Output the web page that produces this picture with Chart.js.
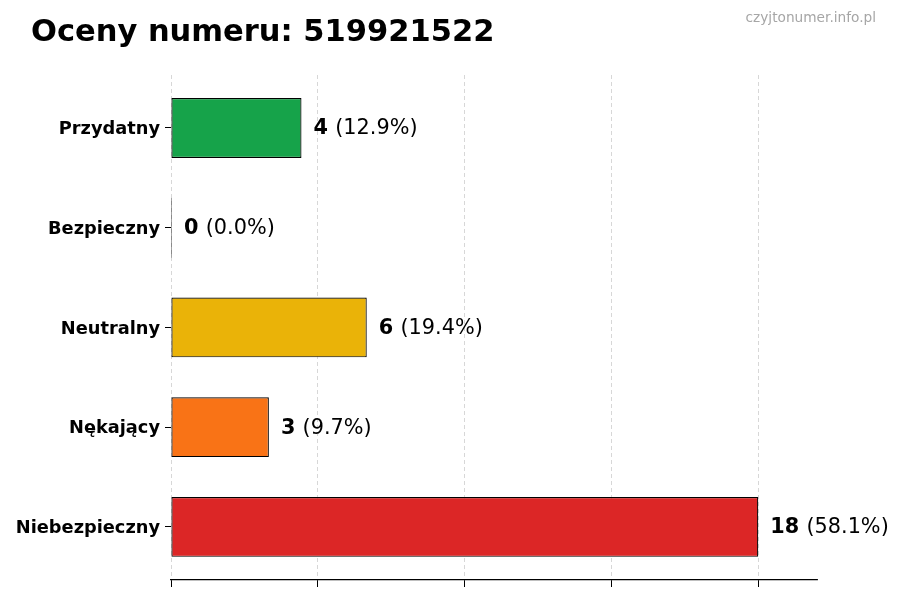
<!DOCTYPE html>
<html>
<head>
<meta charset="utf-8">
<script src="https://cdn.jsdelivr.net/npm/chart.js@4/dist/chart.umd.min.js"></script>
<style>
  html, body { margin: 0; padding: 0; background: #fff; }
  #wrap { width: 900px; height: 600px; }
</style>
</head>
<body>
<div id="wrap"><canvas id="chart" width="900" height="600"></canvas></div>
<script>
// dane wykresu
const categories = ['Przydatny', 'Bezpieczny', 'Neutralny', 'Nękający', 'Niebezpieczny'];
const counts = [4, 0, 6, 3, 18];
const barColors = ['#16a34a', '#16a34a', '#eab308', '#f97316', '#dc2626'];
const xTicks = [0, 4.5, 9, 13.5, 18];
const titleText = 'Oceny numeru: 519921522';
const watermark = 'czyjtonumer.info.pl';

const FONT = "'DejaVu Sans', sans-serif";
const total = counts.reduce((a, b) => a + b, 0);

// etykiety wartości, tytuł i znak wodny
const annotate = {
    id: 'annotate',
    afterDraw(chart) {
        const ctx = chart.ctx;
        const meta = chart.getDatasetMeta(0);
        ctx.save();
        ctx.textBaseline = 'middle';
        meta.data.forEach((bar, i) => {
            const x = bar.x + 12;
            const y = bar.y + 1;
            const num = String(counts[i]);
            ctx.fillStyle = '#000';
            ctx.font = 'bold 20.8px ' + FONT;
            ctx.textAlign = 'left';
            ctx.fillText(num, x, y);
            const w = ctx.measureText(num + ' ').width;
            ctx.font = '20.8px ' + FONT;
            const pct = total ? (counts[i] / total * 100).toFixed(1) : '0.0';
            ctx.fillText('(' + pct + '%)', x + w, y);
        });

        ctx.textBaseline = 'alphabetic';
        ctx.font = 'bold 30.5px ' + FONT;
        ctx.fillStyle = '#000';
        ctx.textAlign = 'left';
        ctx.fillText(titleText, 31, 41);

        ctx.font = '13.7px ' + FONT;
        ctx.fillStyle = '#a6a6a6';
        ctx.textAlign = 'right';
        ctx.fillText(watermark, 876, 22);
        ctx.restore();
    }
};

new Chart(document.getElementById('chart'), {
    type: 'bar',
    data: {
        labels: categories,
        datasets: [{
            data: counts,
            backgroundColor: barColors,
            borderColor: '#000',
            borderWidth: 1.2,
            borderSkipped: false,
            minBarLength: 1,
            barPercentage: 0.6,
            categoryPercentage: 1.0
        }]
    },
    options: {
        indexAxis: 'y',
        responsive: false,
        animation: false,
        layout: { padding: { top: 75, right: 83, bottom: 13, left: 0 } },
        plugins: {
            legend: { display: false },
            tooltip: { enabled: false },
            title: { display: false }
        },
        scales: {
            x: {
                min: 0,
                max: 19.8,
                afterBuildTicks: (scale) => { scale.ticks = xTicks.map(v => ({ value: v })); },
                ticks: { display: false },
                grid: {
                    color: 'rgba(0,0,0,0.2)',
                    lineWidth: 0.8,
                    drawTicks: true,
                    tickLength: 7,
                    tickColor: '#000',
                    tickWidth: 1,
                    tickBorderDash: []
                },
                border: { display: true, color: '#000', width: 1.2, dash: [4, 3] }
            },
            y: {
                afterFit: (scale) => { scale.width = 171; },
                // margines jak w matplotlib: trochę więcej miejsca pod ostatnim słupkiem
                afterBuildTicks: (scale) => {
                    scale._startValue = -0.531;
                    scale._valueRange = 5.063;
                },
                ticks: {
                    color: '#000',
                    padding: 5,
                    labelOffset: 1.5,
                    font: { family: FONT, size: 17.8, weight: 'bold' }
                },
                grid: {
                    offset: false,
                    drawOnChartArea: false,
                    drawTicks: true,
                    tickLength: 6,
                    tickColor: '#000',
                    tickWidth: 1
                },
                border: { display: false }
            }
        }
    },
    plugins: [annotate]
});
</script>
</body>
</html>
